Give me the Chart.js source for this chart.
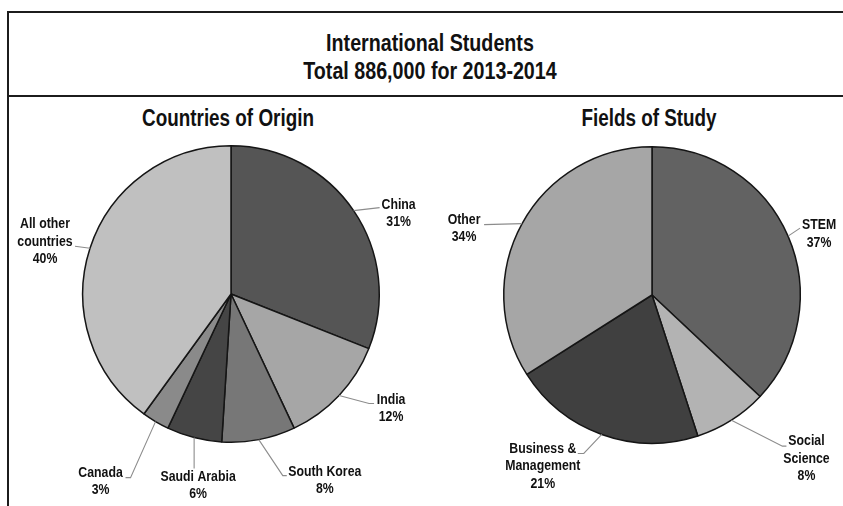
<!DOCTYPE html>
<html>
<head>
<meta charset="utf-8">
<script src="https://cdn.jsdelivr.net/npm/chart.js@4.4.1/dist/chart.umd.min.js"></script>
<style>
  html, body { margin: 0; padding: 0; background: #fff; }
  body { width: 843px; height: 506px; position: relative; overflow: hidden; }
  .frame { position: absolute; left: 7px; top: 11px; width: 900px; height: 600px;
           border-left: 2px solid #1c1c1c; border-top: 2px solid #1c1c1c; }
  .sep { position: absolute; left: 7px; width: 900px; top: 95px; border-top: 2px solid #1c1c1c; }
  .txt { position: absolute; text-align: center; font-weight: bold; color: #111;
         white-space: nowrap; font-family: "Liberation Sans Narrow", "Arial Narrow", "Liberation Sans", Arial, sans-serif; }
  body.fake-narrow .txt { font-family: "Liberation Sans", Arial, sans-serif; transform: scaleX(0.82); }
  canvas { position: absolute; }
</style>
</head>
<body>
<div class="frame"></div>
<div class="sep"></div>
<div class="txt" id="t1" style="left:230px; width:400px; top:29px; font-size:24px; line-height:28px;">International Students</div>
<div class="txt" id="t2" style="left:230px; width:400px; top:57px; font-size:24px; line-height:28px;">Total 886,000 for 2013-2014</div>
<div class="txt" style="left:78px; width:300px; top:104px; font-size:23px; line-height:28px;">Countries of Origin</div>
<div class="txt" style="left:499px; width:300px; top:104px; font-size:23px; line-height:28px;">Fields of Study</div>
<canvas id="origin" width="421" height="408" style="left:0; top:98px;"></canvas>
<canvas id="fields" width="422" height="408" style="left:421px; top:98px;"></canvas>
<script>
// Countries of origin (share of international students, %)
const originLabels = ['China', 'India', 'South Korea', 'Saudi Arabia', 'Canada', ['All other', 'countries']];
const originShares = [31, 12, 8, 6, 3, 40];
const originColors = ['#555555', '#a6a6a6', '#777777', '#454545', '#8a8a8a', '#c0c0c0'];

// Fields of study (share of international students, %)
const fieldLabels = ['STEM', ['Social', 'Science'], ['Business &', 'Management'], 'Other'];
const fieldShares = [37, 8, 21, 34];
const fieldColors = ['#626262', '#b3b3b3', '#404040', '#a6a6a6'];

// Leader-line layout for each slice label: elbow offset from the slice's rim
// midpoint, optional horizontal stub, and text-block offset from the elbow.
const originCallouts = [
  { elbow: [26, -3], stub: 0,  text: [19, -3] },
  { elbow: [30, 8],  stub: 5,  text: [22, -4] },
  { elbow: [24, 36], stub: 4,  text: [42, -4] },
  { elbow: [0, 31],  stub: 0,  text: [4, 8] },
  { elbow: [-25, 56], stub: -5, text: [-30, -5] },
  { elbow: [-15, -2], stub: 0, text: [-30, -22] }
];
const fieldCallouts = [
  { elbow: [12, -8], stub: 0,  text: [19, -3] },
  { elbow: [51, 26], stub: 4,  text: [24, -5] },
  { elbow: [-18, 19], stub: -6, text: [-41, -5] },
  { elbow: [-38, 1], stub: 0,  text: [-20, -5] }
];

// Use a true narrow face when present, otherwise compress the regular one.
const probe = document.createElement('canvas').getContext('2d');
probe.font = 'bold 20px "Liberation Sans Narrow", monospace';
const wNarrow = probe.measureText('International Students').width;
probe.font = 'bold 20px monospace';
const wMono = probe.measureText('International Students').width;
const hasNarrow = Math.abs(wNarrow - wMono) > 0.5;
const labelFamily = hasNarrow ? '"Liberation Sans Narrow"' : '"Liberation Sans", Arial, sans-serif';
const labelScaleX = hasNarrow ? 1 : 0.82;
if (!hasNarrow) document.body.classList.add('fake-narrow');

const LINE_H = 17.5;

const calloutPlugin = {
  id: 'callouts',
  afterDatasetsDraw(chart, args, opts) {
    const ctx = chart.ctx;
    const meta = chart.getDatasetMeta(0);
    const labels = chart.data.labels;
    const values = chart.data.datasets[0].data;
    meta.data.forEach((arc, i) => {
      const p = arc.getProps(['x', 'y', 'startAngle', 'endAngle', 'outerRadius'], true);
      const mid = (p.startAngle + p.endAngle) / 2;
      const ex = p.x + Math.cos(mid) * p.outerRadius;
      const ey = p.y + Math.sin(mid) * p.outerRadius;
      const c = opts.layout[i];
      const bx = ex + c.elbow[0], by = ey + c.elbow[1];
      ctx.save();
      ctx.strokeStyle = '#8c8c8c';
      ctx.lineWidth = 1.1;
      ctx.beginPath();
      ctx.moveTo(ex, ey);
      ctx.lineTo(bx, by);
      if (c.stub) ctx.lineTo(bx + c.stub, by);
      ctx.stroke();
      const name = labels[i];
      const lines = (Array.isArray(name) ? name.slice() : [name]);
      lines.push(values[i] + '%');
      ctx.fillStyle = '#111';
      ctx.font = 'bold 15px ' + labelFamily;
      ctx.textAlign = 'center';
      ctx.textBaseline = 'middle';
      const tx = bx + c.text[0];
      const ty = by + c.text[1];
      lines.forEach((t, k) => {
        ctx.save();
        ctx.translate(tx, ty + k * LINE_H);
        ctx.scale(labelScaleX, 1);
        ctx.fillText(t, 0, 0);
        ctx.restore();
      });
      ctx.restore();
    });
  }
};

function makePie(id, labels, values, colors, callouts, padding) {
  return new Chart(document.getElementById(id), {
    type: 'pie',
    data: {
      labels: labels,
      datasets: [{
        data: values,
        backgroundColor: colors,
        borderColor: '#151515',
        borderWidth: 1.5
      }]
    },
    options: {
      responsive: false,
      animation: false,
      layout: { padding: padding },
      plugins: {
        legend: { display: false },
        tooltip: { enabled: false },
        callouts: { layout: callouts }
      }
    },
    plugins: [calloutPlugin]
  });
}

makePie('origin', originLabels, originShares, originColors, originCallouts,
        { left: 82, right: 41, top: 47, bottom: 63 });
makePie('fields', fieldLabels, fieldShares, fieldColors, fieldCallouts,
        { left: 82, right: 42, top: 48, bottom: 62 });
</script>
</body>
</html>
